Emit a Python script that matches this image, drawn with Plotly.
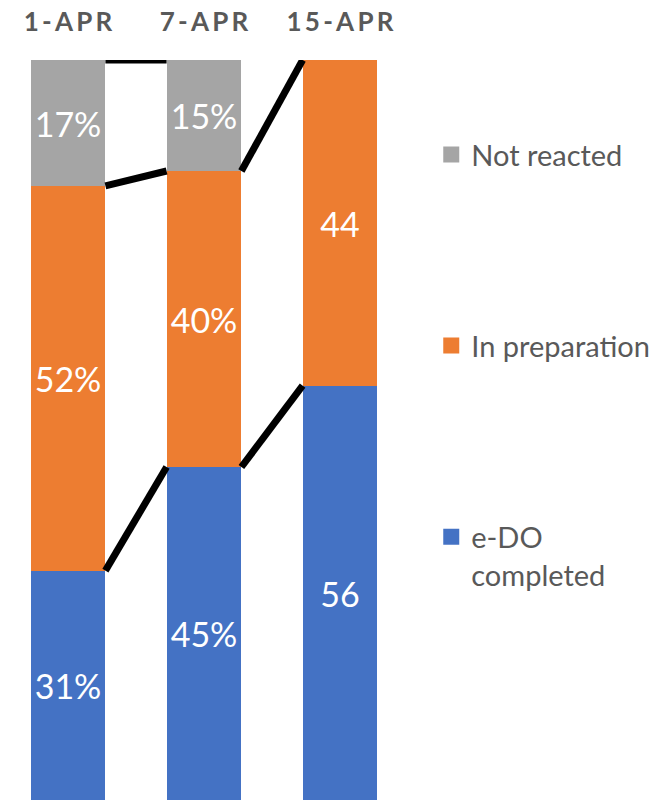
import plotly.graph_objects as go

categories = ["1-APR", "7-APR", "15-APR"]
completed = [31, 45, 56]
preparation = [52, 40, 44]
not_reacted = [17, 15, None]
completed_labels = ["31%", "45%", "56"]
preparation_labels = ["52%", "40%", "44"]
not_reacted_labels = ["17%", "15%", ""]

series_names = ["e-DO<br>completed", "In preparation", "Not reacted"]
colors = ["#4472C4", "#ED7D31", "#A5A5A5"]

FONT = "Lato"
TXT = "#595959"
x = list(range(len(categories)))
BW = 0.55

fig = go.Figure()
series = [(completed, completed_labels), (preparation, preparation_labels), (not_reacted, not_reacted_labels)]
for (vals, labs), col in zip(series, colors):
    fig.add_trace(go.Bar(
        x=x, y=vals, width=BW, marker=dict(color=col, line=dict(width=0)),
        text=labs, textposition="inside", insidetextanchor="middle",
        textangle=0, constraintext="none",
        textfont=dict(family=FONT, size=34, color="white"),
        showlegend=False, hoverinfo="skip"))

# series lines connecting the top of each series between neighbouring bars
cum = [0] * len(categories)
for vals in [completed, preparation, not_reacted]:
    tops = []
    for i, v in enumerate(vals):
        if v is None:
            tops.append(None)
        else:
            cum[i] += v
            tops.append(cum[i])
    lx, ly = [], []
    for i in range(len(categories) - 1):
        a = tops[i]
        b = tops[i + 1]
        if a is None or b is None:
            continue
        lx += [x[i] + BW / 2, x[i + 1] - BW / 2, None]
        ly += [a, b, None]
    fig.add_trace(go.Scatter(x=lx, y=ly, mode="lines", line=dict(color="black", width=7),
                             cliponaxis=False, showlegend=False, hoverinfo="skip"))

# legend entries
legend_ids = ["legend3", "legend2", "legend"]
for name, col, lid in zip(series_names, colors, legend_ids):
    fig.add_trace(go.Scatter(x=[None], y=[None], mode="markers", name=name,
                             marker=dict(symbol="square", size=18, color=col),
                             legend=lid, showlegend=True))

leg_common = dict(font=dict(family=FONT, size=29, color=TXT), bgcolor="rgba(0,0,0,0)",
                  xanchor="left", yanchor="middle", itemsizing="trace", valign="top")
ticktext = ["\u2009".join(list(c)) for c in categories]

fig.update_layout(
    width=661, height=800,
    margin=dict(l=0, r=253, t=60, b=0, autoexpand=False),
    paper_bgcolor="white", plot_bgcolor="white",
    barmode="stack", bargap=0,
    font=dict(family=FONT, color=TXT),
    xaxis=dict(side="top", range=[-0.5, 2.5], tickvals=x, ticktext=ticktext, automargin=False,
               tickfont=dict(family=FONT, size=26, color=TXT, weight="bold"),
               showgrid=False, zeroline=False, showline=False, ticks="", ticklabelstandoff=23),
    yaxis=dict(range=[0, 100], visible=False, showgrid=False, zeroline=False, automargin=False),
    legend=dict(x=1.057, y=0.872, **leg_common),
    legend2=dict(x=1.057, y=0.614, **leg_common),
    legend3=dict(x=1.057, y=0.33, **leg_common),
)

fig.write_html("out.html", config={"displayModeBar": False},
               post_script="document.body.style.margin='0';document.body.style.overflow='hidden';")
